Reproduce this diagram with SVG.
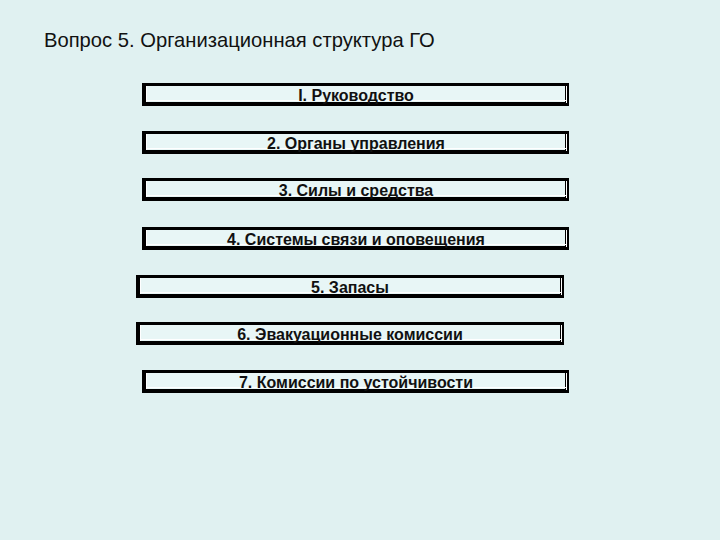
<svg xmlns="http://www.w3.org/2000/svg" width="720" height="540" viewBox="0 0 720 540">
<defs>
<style>
.bg{fill:#e0f1f1}
.frame{fill:#000}
.inner{fill:#e8f6f6}
.hl{stroke:#ffffff;stroke-width:1;fill:none}
.lbl{font-family:"Liberation Sans",Arial,sans-serif;font-size:16px;font-weight:bold;fill:#111;text-anchor:middle}
.title{font-family:"Liberation Sans",Arial,sans-serif;font-size:20.2px;fill:#111}
</style>
</defs>
<rect class="bg" x="0" y="0" width="720" height="540"/>
<text class="title" x="44" y="47">Вопрос 5. Организационная структура ГО</text>
<g id="connectors"></g>
<g id="n1">
<rect class="frame" x="142" y="83" width="427" height="23"/>
<rect class="inner" x="146" y="86" width="419" height="16"/>
<path class="hl" d="M146.5 86v16M146 100.5h420M566.5 86v17"/>
<text class="lbl" x="356" y="101">I. Руководство</text>
</g>
<g id="n2">
<rect class="frame" x="142" y="131" width="427" height="23"/>
<rect class="inner" x="146" y="134" width="419" height="16"/>
<path class="hl" d="M146.5 134v16M146 148.5h420M566.5 134v17"/>
<text class="lbl" x="356" y="149">2. Органы управления</text>
</g>
<g id="n3">
<rect class="frame" x="142" y="178" width="427" height="23"/>
<rect class="inner" x="146" y="181" width="419" height="16"/>
<path class="hl" d="M146.5 181v16M146 195.5h420M566.5 181v17"/>
<text class="lbl" x="356" y="196">3. Силы и средства</text>
</g>
<g id="n4">
<rect class="frame" x="142" y="227" width="427" height="23"/>
<rect class="inner" x="146" y="230" width="419" height="16"/>
<path class="hl" d="M146.5 230v16M146 244.5h420M566.5 230v17"/>
<text class="lbl" x="356" y="245">4. Системы связи и оповещения</text>
</g>
<g id="n5">
<rect class="frame" x="136" y="275" width="428" height="23"/>
<rect class="inner" x="140" y="278" width="420" height="16"/>
<path class="hl" d="M140.5 278v16M140 292.5h421M561.5 278v17"/>
<text class="lbl" x="350" y="293">5. Запасы</text>
</g>
<g id="n6">
<rect class="frame" x="136" y="322" width="428" height="23"/>
<rect class="inner" x="140" y="325" width="420" height="16"/>
<path class="hl" d="M140.5 325v16M140 339.5h421M561.5 325v17"/>
<text class="lbl" x="350" y="340">6. Эвакуационные комиссии</text>
</g>
<g id="n7">
<rect class="frame" x="142" y="370" width="427" height="23"/>
<rect class="inner" x="146" y="373" width="419" height="16"/>
<path class="hl" d="M146.5 373v16M146 387.5h420M566.5 373v17"/>
<text class="lbl" x="356" y="388">7. Комиссии по устойчивости</text>
</g>
</svg>
